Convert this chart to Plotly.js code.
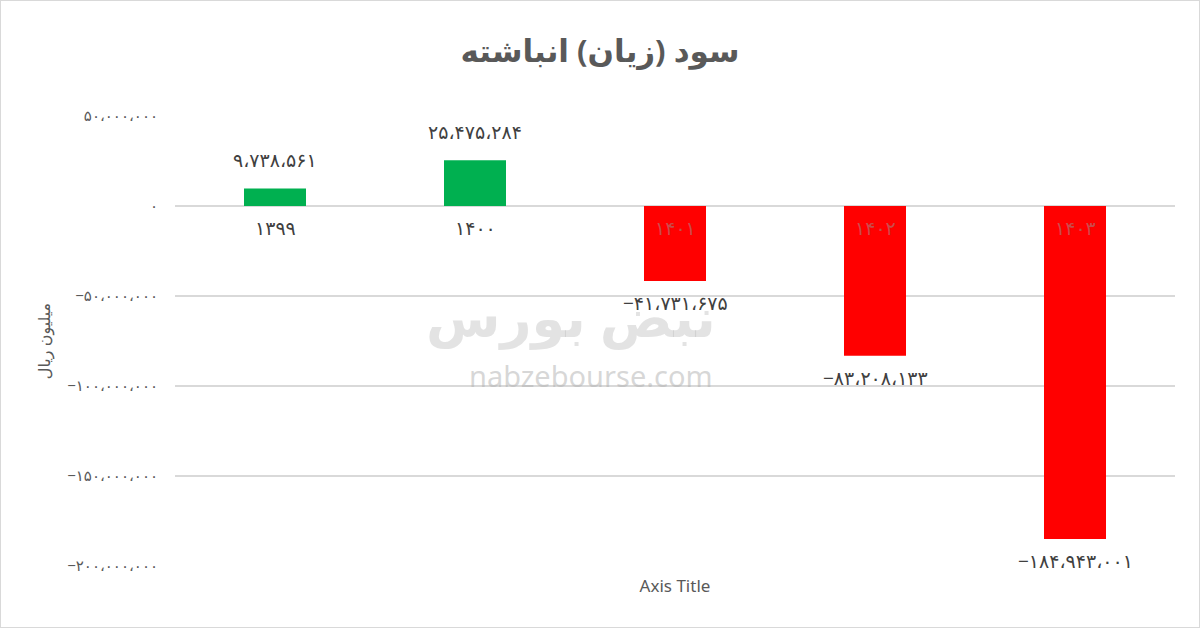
<!DOCTYPE html>
<html>
<head>
<meta charset="utf-8">
<script src="https://cdn.plot.ly/plotly-3.0.1.min.js"></script>
<style>
  html, body { margin: 0; padding: 0; background: #fff; }
  #chart { width: 1198px; height: 626px; border: 1px solid #d9d9d9; }
</style>
</head>
<body>
<div id="chart"></div>
<script>
(function () {
  'use strict';

  var years = ['1399', '1400', '1401', '1402', '1403'];
  var profit = [9738561, 25475284, -41731675, -83208133, -184943001];
  var yTicks = [50000000, 0, -50000000, -100000000, -150000000, -200000000];

  var faDigits = '۰۱۲۳۴۵۶۷۸۹';

  function toFa(s) {
    return String(s).replace(/[0-9]/g, function (d) { return faDigits[+d]; });
  }

  function faNumber(n) {
    var abs = Math.abs(n).toString().replace(/\B(?=(\d{3})+(?!\d))/g, '،');
    return (n < 0 ? '−' : '') + toFa(abs);
  }

  var font = 'Noto Sans, DejaVu Sans, sans-serif';
  var green = '#00b050';
  var red = '#ff0000';

  // persian digit strings as categories (plain digits would be read as indices)
  var cats = years.map(toFa);

  var bars = {
    type: 'bar',
    x: cats,
    y: profit,
    width: 0.31,
    marker: { color: profit.map(function (v) { return v < 0 ? red : green; }) },
    hoverinfo: 'skip'
  };

  // value labels: a bit further from the bar end than plotly's outside text
  var valueNotes = cats.map(function (c, i) {
    var v = profit[i];
    return {
      x: c, y: v, xref: 'x', yref: 'y',
      text: faNumber(v),
      showarrow: false,
      yanchor: 'middle',
      yshift: v < 0 ? -22 : 28,
      font: { family: font, size: 19, color: '#404040' }
    };
  });

  // category labels sit under the zero line (inside the red bars), excel style
  var catNotes = cats.map(function (c, i) {
    return {
      x: c, y: 0, xref: 'x', yref: 'y',
      text: c,
      showarrow: false,
      yanchor: 'middle',
      yshift: -22,
      font: { family: font, size: 19, color: profit[i] < 0 ? 'rgba(150,150,150,0.5)' : '#404040' }
    };
  });

  var watermark = [
    {
      text: 'nabzebourse.com', xref: 'paper', yref: 'paper', x: 0.416, y: 0.424,
      showarrow: false, font: { family: font, size: 29, color: 'rgba(175,175,175,0.5)' }
    },
    {
      text: '<b>نبض بورس</b>', xref: 'paper', yref: 'paper', x: 0.396, y: 0.555,
      showarrow: false, font: { family: font, size: 54, color: 'rgba(185,185,185,0.4)' }
    }
  ];

  Plotly.newPlot('chart', [bars], {
    width: 1198,
    height: 626,
    margin: { l: 174, r: 24, t: 115, b: 61 },
    paper_bgcolor: '#fff',
    plot_bgcolor: '#fff',
    showlegend: false,
    title: {
      text: '<b>سود (زیان) انباشته</b>',
      font: { family: font, size: 31, color: '#595959' },
      x: 0.5,
      xanchor: 'center',
      y: 0.92,
      yanchor: 'middle'
    },
    xaxis: {
      type: 'category',
      showticklabels: false,
      showgrid: false,
      zeroline: false,
      showline: false,
      ticks: '',
      title: { text: 'Axis Title', font: { family: font, size: 17, color: '#595959' }, standoff: 14 }
    },
    yaxis: {
      range: [-200000000, 50000000],
      tickvals: yTicks,
      ticktext: yTicks.map(faNumber),
      tickfont: { family: font, size: 15, color: '#595959' },
      ticklabelstandoff: 16,
      gridcolor: '#d9d9d9',
      gridwidth: 1.5,
      zeroline: true,
      zerolinecolor: '#d9d9d9',
      zerolinewidth: 1.5,
      showline: false,
      ticks: '',
      title: { text: 'میلیون ریال', font: { family: font, size: 16, color: '#595959' }, standoff: 12 }
    },
    annotations: valueNotes.concat(catNotes, watermark)
  }, { displayModeBar: false, responsive: false });
})();
</script>
</body>
</html>
